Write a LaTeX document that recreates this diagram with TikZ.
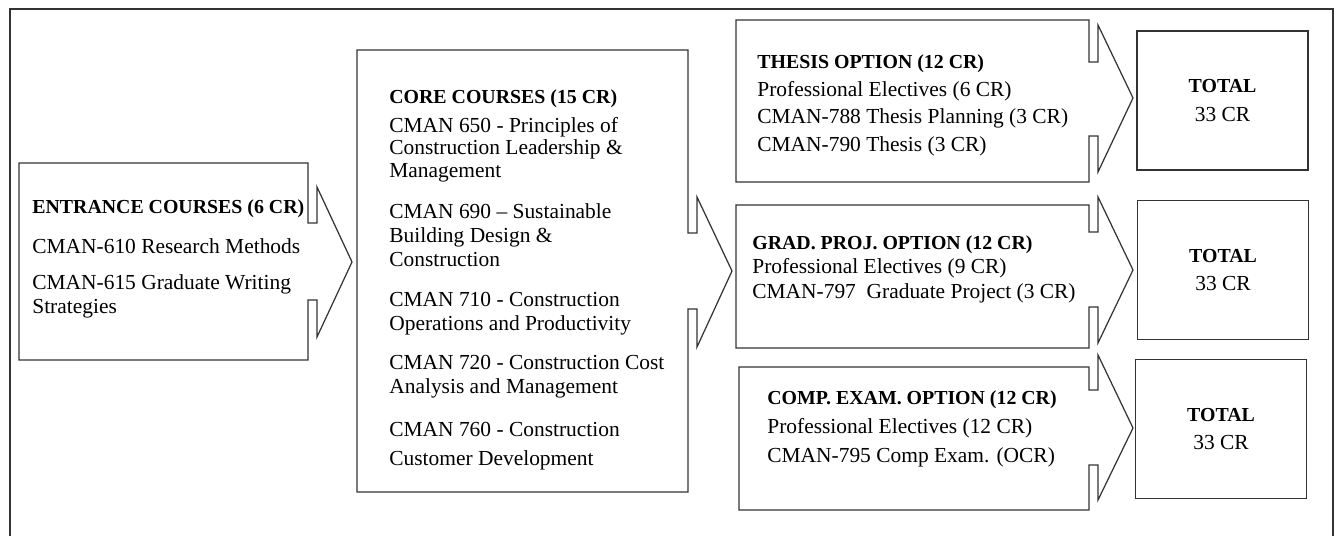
\documentclass[tikz,border=0pt]{standalone}
\usepackage{fontspec}
\setmainfont{Liberation Serif}

\begin{document}
\begin{tikzpicture}[x=0.02cm,y=-0.02cm,
        box/.style={draw=black!80,line width=0.7pt},
        txt/.style={anchor=base west,inner sep=0pt,font=\fontsize{12.2}{14}\selectfont},
        hd/.style={txt,font=\fontsize{11.3}{14}\selectfont\bfseries},
        totbox/.style={box,minimum width=3.42cm,minimum height=2.78cm,align=center,inner sep=0pt,font=\fontsize{12.2}{16}\selectfont}]
        \useasboundingbox (0,0) rectangle (1338,536);
        \draw [black!80,line width=1pt] (10,536) -- (10,9) -- (1333,9) -- (1333,536);
        % arrow boxes: body, shaft, head, tip
        \foreach \xa/\ya/\xb/\yb/\sa/\sb/\ha/\hb/\yt in {19/163/308/360/223/300/187/337/262, 357/50/688/492/233/309/197/347/271, 736/20/1089/182/62/136/25/172/98, 736/205/1089/348/232/307/197/343/270, 739/367/1089/510/390/465/355/500/428} {
            \draw [box] (\xb,\ya) -- (\xa,\ya) -- (\xa,\yb) -- (\xb,\yb) -- (\xb,\sb) -- (\xb+9,\sb) -- (\xb+9,\hb) -- (\xb+44,\yt) -- (\xb+9,\ha) -- (\xb+9,\sa) -- (\xb,\sa) -- cycle;
        }
        % entrance
        \node[hd] (entr) at (32,214) {ENTRANCE COURSES (6 CR)};
        \foreach \y/\t [count=\k] in {254/CMAN-610 Research Methods, 290/CMAN-615 Graduate Writing, 314/Strategies} {
            \node[txt] (entr-\k) at (32,\y) {\t};
        }
        % core
        \node[hd] (core) at (389,104) {CORE COURSES (15 CR)};
        \foreach \y/\t [count=\k] in {133/CMAN 650 - Principles of, 155/Construction Leadership \&, 178/Management, 219/CMAN 690 – Sustainable, 243/Building Design \&, 267/Construction, 307/CMAN 710 - Construction, 331/Operations and Productivity, 370/CMAN 720 - Construction Cost, 394/Analysis and Management, 437/CMAN 760 - Construction, 465/Customer Development} {
            \node[txt] (core-\k) at (389,\y) {\t};
        }
        % options
        \node[hd] (thes) at (757,69) {THESIS OPTION (12 CR)};
        \node[txt] (thes-1) at (757,97) {Professional Electives (6 CR)};
        \node[txt] (thes-2) at (757,124) {CMAN-788 Thesis Planning (3 CR)};
        \node[txt] (thes-3) at (757,152) {CMAN-790 Thesis (3 CR)};
        \node[hd] (proj) at (752,250) {GRAD. PROJ. OPTION (12 CR)};
        \node[txt] (proj-1) at (752,274) {Professional Electives (9 CR)};
        \node[txt] (proj-2) at (752,299) {CMAN-797\ \ Graduate Project (3 CR)};
        \node[hd] (exam) at (767,405) {COMP. EXAM. OPTION (12 CR)};
        \node[txt] (exam-1) at (767,434) {Professional Electives (12 CR)};
        \node[txt] (exam-2) at (767,462) {CMAN-795 Comp Exam. (OCR)};
        % totals
        \node[totbox] (tot1) at (1222.5,100.5) {{\fontsize{11.3}{16}\selectfont\bfseries TOTAL}\\33 CR};
        \node[totbox] (tot2) at (1223,270) {{\fontsize{11.3}{16}\selectfont\bfseries TOTAL}\\33 CR};
        \node[totbox] (tot3) at (1221,429) {{\fontsize{11.3}{16}\selectfont\bfseries TOTAL}\\33 CR};
\end{tikzpicture}
\end{document}
